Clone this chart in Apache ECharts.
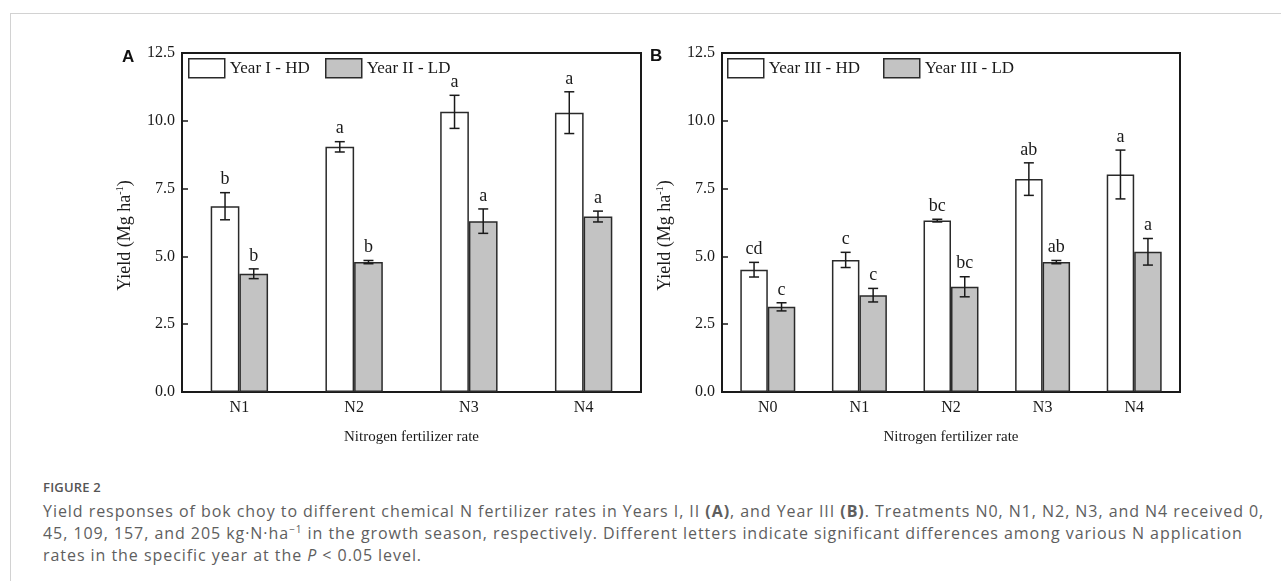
<!DOCTYPE html>
<html>
<head>
<meta charset="utf-8">
<script src="https://cdn.jsdelivr.net/npm/echarts@6/dist/echarts.min.js"></script>
<style>
  html, body { margin: 0; padding: 0; background: #fff; width: 1281px; height: 581px; overflow: hidden; }
  #frame { position: absolute; left: 10px; top: 13px; width: 1400px; height: 700px;
    border-left: 1px solid #d2d2d2; border-top: 1px solid #d2d2d2; }
  #chart { position: absolute; left: 0; top: 0; width: 1281px; height: 465px; }
  #caption { position: absolute; left: 43px; top: 478px; width: 1236px; color: #5e5e5e;
    font-family: "Open Sans", sans-serif; }
  #caption .fig { font-size: 13px; font-weight: 600; line-height: 18px; color: #555; letter-spacing: 0.2px; }
  #caption .txt { font-size: 16px; line-height: 22px; margin-top: 4px; letter-spacing: 0.95px; white-space: nowrap; }
  #caption sup { font-size: 10px; line-height: 0; }
</style>
</head>
<body>
<div id="frame"></div>
<div id="chart"></div>
<div id="caption">
  <div class="fig">FIGURE 2</div>
  <div class="txt">Yield responses of bok choy to different chemical N fertilizer rates in Years I, II <b>(A)</b>, and Year III <b>(B)</b>. Treatments N0, N1, N2, N3, and N4 received 0,<br>45, 109, 157, and 205 kg·N·ha<sup>−1</sup> in the growth season, respectively. Different letters indicate significant differences among various N application<br>rates in the specific year at the <i>P</i> &lt; 0.05 level.</div>
</div>
<script>
// panel A: Years I, II
const catsA = ["N1", "N2", "N3", "N4"];
const hdA = [6.85, 9.04, 10.33, 10.3];
const hdErrA = [0.5, 0.19, 0.61, 0.77];
const ldA = [4.36, 4.79, 6.3, 6.47];
const ldErrA = [0.18, 0.06, 0.45, 0.2];
const hdLetA = ["b", "a", "a", "a"];
const ldLetA = ["b", "b", "a", "a"];

// panel B: Year III
const catsB = ["N0", "N1", "N2", "N3", "N4"];
const hdB = [4.51, 4.87, 6.32, 7.85, 8.02];
const hdErrB = [0.27, 0.28, 0.05, 0.6, 0.9];
const ldB = [3.14, 3.57, 3.88, 4.79, 5.17];
const ldErrB = [0.15, 0.25, 0.37, 0.06, 0.49];
const hdLetB = ["cd", "c", "bc", "ab", "a"];
const ldLetB = ["c", "c", "bc", "ab", "a"];

const yMin = 0;
const yMax = 12.5;
const yStep = 2.5;

const serif = '"Liberation Serif", "Times New Roman", serif';
const ink = "#1a1a1a";
const gapA = 0.5;
const gapB = 0.4;

function errRender(letters, side, gap) {
  return function (params, api) {
    const i = api.value(0);
    const m = api.value(1);
    const e = api.value(2);
    const band = api.size([1, 0])[0];
    const bw = (band * (1 - gap)) / 2;
    const x = api.coord([i, m])[0] + (side * bw) / 2;
    const yTop = api.coord([i, m + e])[1];
    const yBot = api.coord([i, m - e])[1];
    const cap = 5;
    const ls = { stroke: ink, lineWidth: 1.5 };
    return {
      type: "group",
      children: [
        { type: "line", shape: { x1: x, y1: yTop, x2: x, y2: yBot }, style: ls },
        { type: "line", shape: { x1: x - cap, y1: yTop, x2: x + cap, y2: yTop }, style: ls },
        { type: "line", shape: { x1: x - cap, y1: yBot, x2: x + cap, y2: yBot }, style: ls },
        {
          type: "text",
          x: x,
          y: yTop - 4,
          style: {
            text: letters[params.dataIndex],
            font: "18px " + serif,
            fill: ink,
            align: "center",
            verticalAlign: "bottom",
          },
        },
      ],
    };
  };
}

function errSeries(idx, vals, errs, letters, side, gap) {
  return {
    type: "custom",
    xAxisIndex: idx,
    yAxisIndex: idx,
    renderItem: errRender(letters, side, gap),
    data: vals.map((v, i) => [i, v, errs[i]]),
    z: 5,
  };
}

function xAxisOf(idx, cats) {
  return {
    type: "category",
    gridIndex: idx,
    data: cats,
    axisTick: { show: false },
    axisLine: { lineStyle: { color: ink, width: 2 } },
    axisLabel: { color: ink, fontFamily: serif, fontSize: 16, margin: 8 },
    name: "Nitrogen fertilizer rate",
    nameLocation: "middle",
    nameGap: 38,
    nameTextStyle: { color: ink, fontFamily: serif, fontSize: 15 },
  };
}

function yAxisOf(idx) {
  return {
    type: "value",
    gridIndex: idx,
    min: yMin,
    max: yMax,
    interval: yStep,
    splitLine: { show: false },
    axisLine: { show: true, lineStyle: { color: ink, width: 2 } },
    axisTick: { show: true, inside: true, length: 6, lineStyle: { color: ink, width: 1.5 } },
    axisLabel: {
      color: ink,
      fontFamily: serif,
      fontSize: 16,
      margin: 7,
      formatter: (v) => v.toFixed(1),
    },
    name: "{t|Yield (Mg ha}{s|-1}{t|)}",
    nameLocation: "middle",
    nameGap: 46,
    nameTextStyle: {
      color: ink,
      fontFamily: serif,
      fontSize: 18,
      padding: [0, 26, 0, 0],
      rich: {
        t: { color: ink, fontFamily: serif, fontSize: 18, lineHeight: 21 },
        s: { color: ink, fontFamily: serif, fontSize: 10, lineHeight: 21, verticalAlign: "top" },
      },
    },
  };
}

function barSeries(idx, name, vals, fill, gap) {
  return {
    type: "bar",
    name: name,
    xAxisIndex: idx,
    yAxisIndex: idx,
    data: vals,
    barGap: "0%",
    barCategoryGap: gap * 100 + "%",
    itemStyle: { color: fill, borderColor: "#2a2a2a", borderWidth: 1.5 },
  };
}

function legendOf(name, left) {
  return {
    data: [name],
    left: left,
    top: 58,
    padding: 0,
    icon: "rect",
    itemWidth: 36,
    itemHeight: 19,
    itemGap: 0,
    itemStyle: { borderColor: "#2a2a2a", borderWidth: 1.5 },
    textStyle: { color: ink, fontFamily: serif, fontSize: 17 },
    selectedMode: false,
  };
}

const chart = echarts.init(document.getElementById("chart"));
chart.setOption({
  animation: false,
  backgroundColor: "transparent",
  grid: [
    { left: 182, top: 53, width: 459, height: 339, show: true, borderColor: ink, borderWidth: 2 },
    { left: 722, top: 53, width: 458, height: 339, show: true, borderColor: ink, borderWidth: 2 },
  ],
  xAxis: [xAxisOf(0, catsA), xAxisOf(1, catsB)],
  yAxis: [yAxisOf(0), yAxisOf(1)],
  legend: [
    legendOf("Year I - HD", 188),
    legendOf("Year II - LD", 325),
    legendOf("Year III - HD", 727),
    legendOf("Year III - LD", 883),
  ],
  graphic: [
    { type: "text", left: 122, top: 49, style: { text: "A", font: 'bold 17px "Liberation Sans", Arial', fill: "#111" } },
    { type: "text", left: 650, top: 48, style: { text: "B", font: 'bold 17px "Liberation Sans", Arial', fill: "#111" } },
  ],
  series: [
    barSeries(0, "Year I - HD", hdA, "#ffffff", gapA),
    barSeries(0, "Year II - LD", ldA, "#c3c3c3", gapA),
    barSeries(1, "Year III - HD", hdB, "#ffffff", gapB),
    barSeries(1, "Year III - LD", ldB, "#c3c3c3", gapB),
    errSeries(0, hdA, hdErrA, hdLetA, -1, gapA),
    errSeries(0, ldA, ldErrA, ldLetA, 1, gapA),
    errSeries(1, hdB, hdErrB, hdLetB, -1, gapB),
    errSeries(1, ldB, ldErrB, ldLetB, 1, gapB),
  ],
});
</script>
</body>
</html>
